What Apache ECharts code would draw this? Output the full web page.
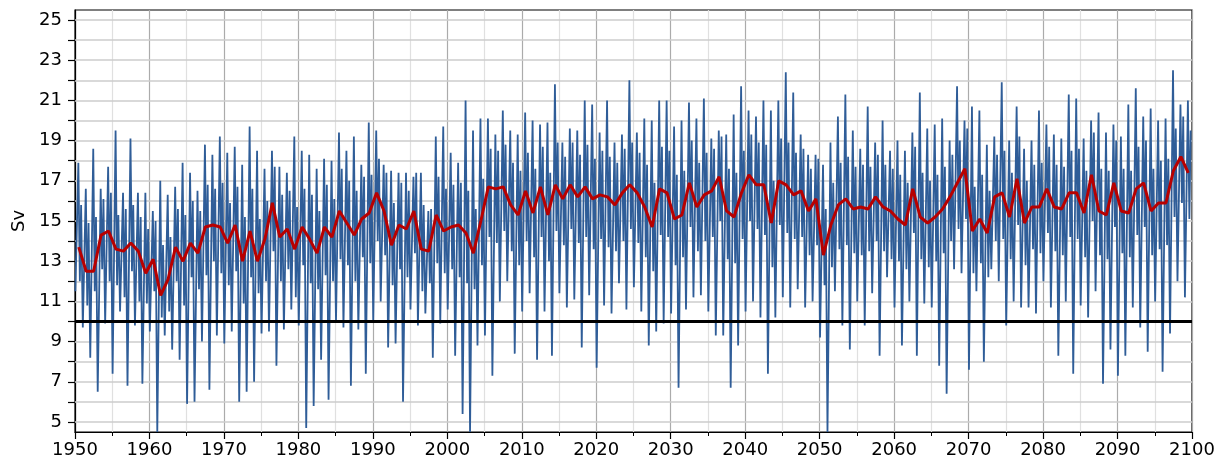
<!DOCTYPE html>
<html><head><meta charset="utf-8">
<script src="https://cdn.jsdelivr.net/npm/echarts@6/dist/echarts.min.js"></script>
<style>html,body{margin:0;padding:0;background:#fff}#c{width:1228px;height:466px}</style>
</head><body><div id="c"></div>
<script>
const startYear = 1950;
// annual mean (red), one value per year 1950..2099
const annualMean = [
13.7,12.5,12.5,14.3,14.5,13.6,13.5,13.9,13.5,12.4,
13.1,11.3,12.1,13.7,13.0,13.9,13.4,14.7,14.8,14.7,
13.9,14.8,13.0,14.5,13.0,14.1,15.9,14.2,14.6,13.6,
14.7,14.1,13.4,14.7,14.2,15.5,14.9,14.3,15.1,15.4,
16.4,15.5,13.8,14.8,14.6,15.5,13.6,13.5,15.3,14.5,
14.7,14.8,14.4,13.4,15.0,16.7,16.6,16.7,15.8,15.3,
16.5,15.4,16.7,15.3,16.8,16.1,16.8,16.2,16.7,16.1,
16.3,16.2,15.8,16.4,16.8,16.4,15.7,14.7,16.6,16.4,
15.1,15.3,16.9,15.7,16.3,16.5,17.2,15.5,15.2,16.4,
17.3,16.8,16.8,14.9,17.0,16.8,16.3,16.5,15.5,16.1,
13.3,14.8,15.8,16.1,15.6,15.7,15.6,16.2,15.7,15.5,
15.1,14.8,16.6,15.2,14.9,15.2,15.6,16.2,16.9,17.6,
14.5,15.1,14.4,16.2,16.4,15.2,17.1,14.9,15.7,15.7,
16.6,15.7,15.6,16.4,16.4,15.4,17.3,15.5,15.3,16.9,
15.5,15.4,16.6,16.9,15.5,15.9,15.9,17.5,18.2,17.4];
// monthly series: winter low, summer high, late dip, autumn bump per year
const winterLow = [
11.5,9.7,8.2,6.5,9.9,7.4,10.5,6.8,9.8,6.9,
9.5,4.5,9.3,8.6,8.1,5.9,6.0,9.0,6.6,9.3,
8.9,9.5,6.0,6.5,7.0,9.4,9.5,7.8,9.6,10.6,
9.8,4.7,5.8,8.1,6.1,10.0,9.7,6.8,9.6,7.4,
10.0,11.0,8.7,8.9,6.0,10.6,9.8,10.4,8.2,9.9,
10.6,8.3,5.4,4.5,8.8,9.3,7.3,11.0,12.0,8.4,
10.5,11.4,8.1,10.5,8.3,11.4,10.7,11.1,8.7,11.3,
7.7,10.8,10.4,11.9,10.6,11.7,10.5,8.8,9.5,9.9,
10.4,6.7,10.6,11.2,11.3,10.5,9.3,9.3,6.7,8.8,
10.5,11.0,10.2,7.4,10.2,11.2,10.7,11.6,10.7,11.0,
9.2,4.5,11.5,9.8,8.6,11.0,9.8,11.4,8.3,12.2,
10.7,8.8,11.0,8.3,10.9,10.7,7.8,6.4,12.6,12.4,
7.6,11.5,8.0,12.6,12.0,9.8,11.0,10.7,10.7,10.4,
12.0,10.7,8.3,11.0,7.4,10.8,10.2,11.5,6.9,8.6,
7.3,8.3,10.7,9.7,8.5,11.0,7.5,9.4,12.0,11.2];
const summerHigh = [
17.9,16.6,18.6,16.6,17.7,19.5,16.4,19.1,16.4,16.4,
15.5,17.0,16.3,16.7,17.9,17.4,16.5,18.8,18.3,19.2,
18.4,18.7,17.8,19.7,18.5,17.6,18.5,17.7,17.4,19.2,
18.5,18.3,17.6,18.1,18.0,19.4,18.5,19.2,17.8,19.9,
19.5,17.8,17.5,17.4,17.4,17.2,17.4,15.5,19.2,19.7,
18.4,17.9,21.0,19.5,20.1,20.1,19.3,20.5,19.5,19.3,
20.4,20.0,19.8,19.9,21.8,18.9,19.6,19.5,21.0,20.8,
19.4,21.0,18.9,19.3,22.0,19.4,20.1,20.0,21.0,21.0,
19.7,20.0,20.9,20.1,21.1,19.1,19.5,19.3,20.3,21.7,
20.5,20.2,21.0,20.5,21.0,22.4,21.4,19.3,18.3,18.3,
17.8,18.9,20.2,21.3,19.5,18.6,20.7,18.9,20.0,18.5,
19.0,18.5,19.4,21.4,19.6,19.8,20.1,19.0,21.7,20.0,
20.7,20.5,18.8,19.2,21.9,19.0,20.7,18.6,19.0,20.5,
19.8,19.3,19.1,21.3,21.1,19.1,20.0,20.4,19.4,19.8,
19.2,20.8,21.6,20.2,20.6,20.0,20.1,22.5,20.8,21.0];
const lateDip = [
12.0,10.8,11.5,12.6,12.0,11.8,11.2,12.5,11.0,10.9,
11.5,10.2,10.5,12.0,10.8,12.2,11.6,12.3,13.0,12.4,
11.8,12.5,10.9,12.2,11.4,12.0,13.5,12.0,12.6,11.2,
12.8,11.9,11.6,12.3,12.0,13.1,12.8,12.0,13.2,12.9,
14.0,13.3,11.8,12.6,12.2,13.4,11.5,11.9,12.9,12.4,
12.6,12.2,11.9,11.6,12.8,14.2,13.9,14.5,13.5,12.8,
14.0,13.2,14.2,13.0,14.5,13.8,14.6,13.9,14.2,13.6,
14.1,13.7,13.5,14.0,14.6,13.9,13.2,12.5,14.3,14.2,
12.8,13.2,14.7,13.5,14.0,14.2,15.0,13.1,12.9,14.1,
15.0,14.6,14.3,12.7,14.8,14.4,14.1,14.2,13.3,13.8,
11.8,12.7,13.6,13.8,13.4,13.3,13.5,14.0,13.5,13.1,
13.0,12.6,14.4,13.1,12.7,13.0,13.4,14.0,14.6,15.1,
12.4,12.9,12.2,14.0,14.1,13.1,14.8,12.8,13.6,13.4,
14.4,13.5,13.3,14.2,14.1,13.2,15.0,13.3,13.1,14.7,
13.4,13.2,14.3,14.7,13.3,13.6,13.8,15.2,15.9,15.1];
const autumnBump = [
15.8,14.9,15.2,16.1,16.4,15.3,15.6,15.8,15.2,14.6,
15.0,13.8,14.2,15.6,15.3,16.0,15.5,16.8,16.6,16.9,
15.9,16.7,15.2,16.6,15.1,16.0,17.7,16.3,16.5,15.7,
16.6,16.3,15.5,16.8,16.1,17.6,17.0,16.5,17.2,17.3,
18.1,17.4,15.9,16.9,16.5,17.4,15.8,15.6,17.2,16.6,
16.8,16.9,16.5,15.6,17.1,18.6,18.5,18.8,17.9,17.5,
18.4,17.6,18.7,17.4,18.9,18.2,18.9,18.3,18.8,18.1,
18.5,18.2,17.9,18.6,18.9,18.4,17.8,16.9,18.7,18.5,
17.3,17.5,19.0,17.9,18.4,18.6,19.2,17.6,17.4,18.5,
19.3,18.9,18.8,17.0,19.1,18.9,18.4,18.6,17.6,18.1,
15.6,16.9,17.9,18.2,17.7,17.8,17.7,18.3,17.8,17.6,
17.3,16.9,18.7,17.4,17.0,17.3,17.7,18.3,19.0,19.6,
16.7,17.3,16.5,18.3,18.5,17.4,19.2,17.0,17.8,17.9,
18.7,17.8,17.7,18.5,18.6,17.5,19.4,17.6,17.5,19.0,
17.6,17.5,18.7,19.0,17.6,18.0,18.1,19.6,20.2,19.5];
const threshold = 10;
const yTickValues = [5,6,7,8,9,10,11,12,13,14,15,16,17,18,19,20,21,22,23,24,25];
const yLabelValues = [5,7,9,11,13,15,17,19,21,23,25];
const xRange = [1950, 2100];
const yRange = [4.5, 25.5];

const blueData = [];
for (let i = 0; i < annualMean.length; i++) {
  const yr = startYear + i;
  blueData.push([yr + 0.05, winterLow[i]], [yr + 0.45, summerHigh[i]], [yr + 0.65, lateDip[i]], [yr + 0.82, autumnBump[i]]);
}
const redData = annualMean.map((v, i) => [startYear + i + 0.5, v]);

const font = 'DejaVu Sans';
const chart = echarts.init(document.getElementById('c'), null, {renderer: 'canvas'});
chart.setOption({
  animation: false,
  backgroundColor: '#fff',
  grid: {left: 75, right: 36, top: 10, bottom: 34, show: true, borderColor: '#000', borderWidth: 1.2, backgroundColor: 'transparent'},
  xAxis: {
    type: 'value', min: xRange[0], max: xRange[1], interval: 10,
    axisLine: {show: true, lineStyle: {color: '#000', width: 1.2}},
    axisTick: {show: true, length: 7, lineStyle: {color: '#000', width: 1.2}},
    minorTick: {show: true, splitNumber: 2, length: 4, lineStyle: {color: '#000', width: 1}},
    axisLabel: {fontSize: 18, color: '#000', fontFamily: font, margin: 9, formatter: v => String(v)},
    splitLine: {show: true, lineStyle: {color: '#ababab', width: 1.2}},
    minorSplitLine: {show: true, lineStyle: {color: '#e0e0e0', width: 1.2}}
  },
  yAxis: {
    type: 'value', min: yRange[0], max: yRange[1],
    name: 'Sv', nameLocation: 'middle', nameGap: 47, nameRotate: 90,
    nameTextStyle: {fontSize: 18, color: '#000', fontFamily: font},
    axisLine: {show: true, onZero: false, lineStyle: {color: '#000', width: 1.2}},
    axisTick: {show: true, length: 7, customValues: yTickValues, lineStyle: {color: '#000', width: 1.2}},
    axisLabel: {fontSize: 18, color: '#000', fontFamily: font, margin: 13, customValues: yLabelValues, formatter: v => String(v)},
    splitLine: {show: false}
  },
  series: [
    {
      type: 'line', data: [], z: 1, silent: true,
      markLine: {
        z: 1, silent: true, symbol: ['none', 'none'], label: {show: false},
        lineStyle: {color: '#cdcdcd', width: 1.5, type: 'solid'},
        emphasis: {disabled: true},
        data: yTickValues.map(v => ({yAxis: v}))
      }
    },
    {
      type: 'line', data: blueData, showSymbol: false, z: 2, silent: true,
      lineStyle: {color: '#2f5d98', width: 1.8}
    },
    {
      type: 'line', data: [[xRange[0], threshold], [xRange[1], threshold]], showSymbol: false, z: 3, silent: true,
      lineStyle: {color: '#000', width: 3}
    },
    {
      type: 'line', data: redData, showSymbol: false, z: 4, silent: true,
      lineStyle: {color: '#b80000', width: 3}
    }
  ]
});
</script></body></html>
